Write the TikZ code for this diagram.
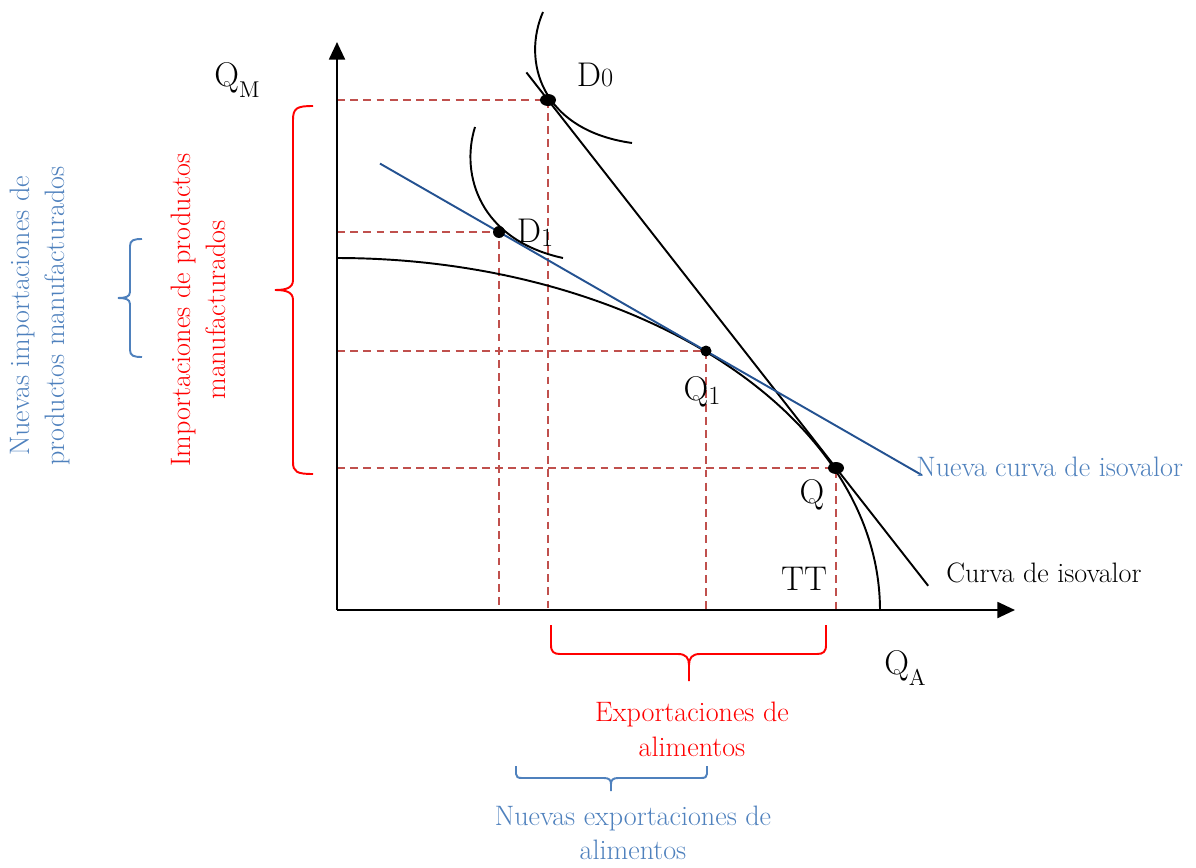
\documentclass[tikz,border=0pt]{standalone}
\usetikzlibrary{arrows.meta,calc}
\definecolor{dashred}{RGB}{192,80,77}
\definecolor{lblue}{RGB}{79,129,189}
\definecolor{dblue}{RGB}{36,82,145}
\definecolor{bred}{RGB}{255,0,0}
\begin{document}
\begin{tikzpicture}[x=0.02cm,y=-0.02cm,
  annot/.style={font=\fontsize{16}{20}\selectfont, align=center, inner sep=0pt},
  biglab/.style={font=\fontsize{19.5}{22}\selectfont, inner sep=0pt},
  dashln/.style={dashred, line width=0.85pt, dash pattern=on 4.5pt off 3pt},
  curveln/.style={line width=1.1pt},
  axisln/.style={line width=1.4pt, -{Triangle[length=10pt,width=9pt]}},
  bracered/.style={bred, line width=1.1pt},
  braceblue/.style={lblue, line width=1.1pt}]
\useasboundingbox (0,0) rectangle (1196,868);
% key points
\coordinate (O) at (337,610);
\coordinate (ytop) at (337,42);
\coordinate (xend) at (1015,610);
\coordinate (D0) at (548,100);
\coordinate (D1) at (499,232);
\coordinate (Q1) at (706,351);
\coordinate (Q) at (836,468);
% dashed guides
\draw[dashln] (O |- D0) -- (D0) -- (D0 |- O);
\draw[dashln] (O |- D1) -- (D1) -- (D1 |- O);
\draw[dashln] (O |- Q1) -- (Q1) -- (Q1 |- O);
\draw[dashln] (O |- Q) -- (Q) -- (Q |- O);
% axes
\draw[axisln] (O) -- (ytop);
\draw[axisln] (O) -- (xend);
% transformation curve TT
\draw[curveln] plot[domain=0:90, samples=80, smooth] ({337+543*cos(\x)},{610-352*sin(\x)});
% isovalue lines
\draw[curveln] ($(D0)!-0.075!(Q)$) coordinate (iso0) -- ($(Q)!-0.32!(D0)$) coordinate (iso1);
\draw[dblue, line width=1.1pt] ($(D1)!-0.575!(Q1)$) coordinate (niso0) -- ($(Q1)!-1.043!(D1)$) coordinate (niso1);
% indifference curves
\draw[curveln] (543,12) .. controls (522,60) and (540,130) .. (632,143);
\draw[curveln] (475,127) .. controls (460,175) and (480,240) .. (563,258);
% dots
\fill (D0) ellipse[x radius=8, y radius=6];
\fill (Q) ellipse[x radius=8, y radius=6];
\fill (D1) circle[radius=6];
\fill (Q1) circle[radius=5.5];
% labels
\node[biglab] (lQM) at (237,80) {Q\raisebox{-6pt}{\fontsize{13}{13}\selectfont M}};
\node[biglab] (lQA) at (905,668) {Q\raisebox{-6pt}{\fontsize{13}{13}\selectfont A}};
\node[biglab] (lD0) at (595,75) {D\fontsize{15}{15}\selectfont 0};
\node[biglab] (lD1) at (535,233) {D\raisebox{-2pt}{\fontsize{15}{15}\selectfont 1}};
\node[biglab] (lQ1) at (702,392) {Q\raisebox{-2pt}{\fontsize{15}{15}\selectfont 1}};
\node[biglab] (lQ) at (812,495) {Q};
\node[biglab] (lTT) at (804,579) {TT};
\node[annot, anchor=west] (liso) at (946,573) {Curva de isovalor};
\node[annot, anchor=west, lblue] (lniso) at (916,467) {Nueva curva de isovalor};
% red brace left
\draw[bracered] (313,106) .. controls (297,106) and (293,108) .. (293,120) -- (293,280)
  .. controls (293,288) and (286,290) .. (275,290)
  .. controls (286,290) and (293,292) .. (293,300) -- (293,462)
  .. controls (293,472) and (297,474) .. (313,474);
\node[annot, bred, rotate=90] (limp) at (198,310) {Importaciones de productos\\manufacturados};
% blue brace left
\draw[braceblue] (142,239) .. controls (134,239) and (130,240) .. (130,246) -- (130,292)
  .. controls (130,297) and (125,298) .. (118,298)
  .. controls (125,298) and (130,299) .. (130,304) -- (130,350)
  .. controls (130,356) and (134,357) .. (142,357);
\node[annot, lblue, rotate=90] (lnimp) at (40,316) {Nuevas importaciones de\\productos manufacturados};
% red brace bottom
\draw[bracered] (551,625) -- (551,645) .. controls (551,652) and (554,654) .. (560,654) -- (678,654)
  .. controls (686,654) and (689,658) .. (689,665) -- (689,681);
\draw[bracered] (826,625) -- (826,645) .. controls (826,652) and (823,654) .. (817,654) -- (700,654)
  .. controls (692,654) and (689,658) .. (689,665);
\node[annot, bred] (lexp) at (692,729) {Exportaciones de\\alimentos};
% blue brace bottom
\draw[braceblue] (516,766) -- (516,774) .. controls (516,777) and (518,778) .. (522,778) -- (604,778)
  .. controls (609,778) and (611,780) .. (611,784) -- (611,791);
\draw[braceblue] (707,766) -- (707,774) .. controls (707,777) and (705,778) .. (701,778) -- (618,778)
  .. controls (613,778) and (611,780) .. (611,784);
\node[annot, lblue, font=\fontsize{16}{19}\selectfont] (lnexp) at (633,833) {Nuevas exportaciones de\\alimentos};
\end{tikzpicture}
\end{document}
